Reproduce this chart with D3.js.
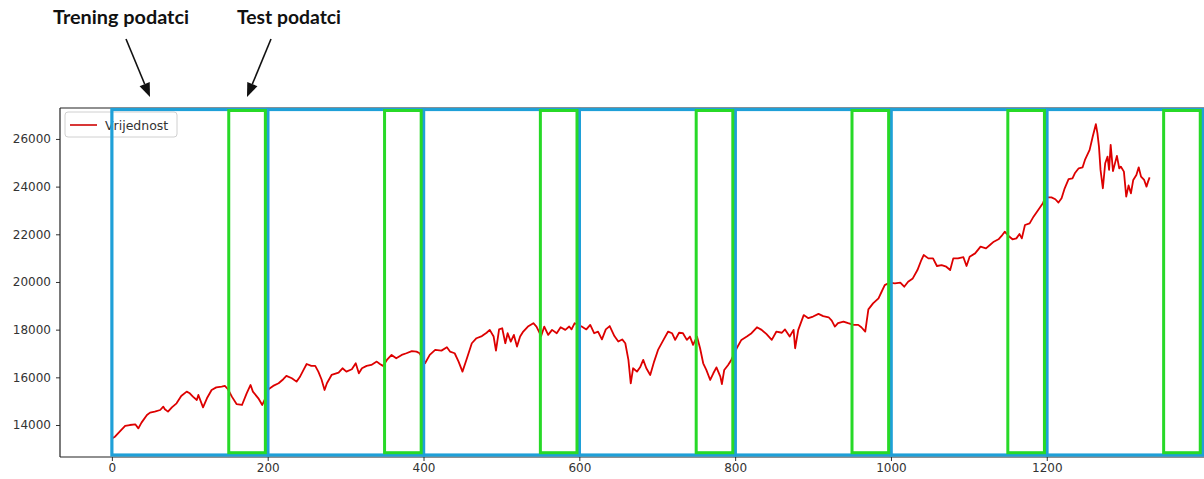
<!DOCTYPE html>
<html>
<head>
<meta charset="utf-8">
<script src="https://cdn.jsdelivr.net/npm/d3@7"></script>
<style>
  html, body { margin: 0; padding: 0; background: #fff; }
  svg { display: block; }
</style>
</head>
<body>
<svg id="chart" width="1204" height="479"></svg>
<script>
// ---- data ----
const idx = [0,4,10,17,23,30,34,38,45,49,55,62,66,68,72,77,83,89,96,100,104,109,111,117,122,128,134,141,145,149,154,160,167,173,178,181,188,193,199,201,207,214,220,224,231,237,241,246,250,256,261,265,269,273,276,282,291,296,301,308,313,317,321,327,333,340,344,348,353,359,365,372,378,385,391,395,402,408,415,423,430,434,440,445,450,455,462,468,475,481,485,490,493,497,501,505,508,512,516,520,524,528,534,541,545,551,555,560,565,571,576,582,587,590,594,603,609,614,619,624,629,634,639,645,650,655,659,663,666,669,674,678,682,686,691,696,701,708,714,719,723,728,733,738,742,746,751,755,759,763,768,772,776,781,783,786,791,795,802,808,815,821,828,834,840,847,853,860,864,870,875,877,881,888,894,900,907,913,920,924,928,932,939,945,952,958,962,967,971,977,984,988,992,998,1005,1012,1017,1022,1028,1034,1039,1042,1048,1054,1059,1065,1071,1076,1080,1086,1093,1097,1101,1108,1115,1122,1127,1132,1138,1142,1146,1151,1156,1161,1165,1168,1172,1178,1183,1189,1195,1198,1206,1211,1215,1219,1223,1228,1233,1236,1241,1246,1249,1255,1259,1263,1265,1267,1269,1272,1275,1278,1280,1282,1285,1290,1293,1295,1299,1302,1305,1308,1311,1315,1318,1321,1325,1328,1330,1332];
const values = [13440,13510,13720,13960,14000,14030,13860,14100,14420,14520,14560,14630,14770,14660,14560,14740,14910,15220,15400,15330,15190,15050,15260,14740,15120,15470,15580,15610,15640,15500,15190,14880,14840,15330,15680,15400,15120,14840,15260,15500,15640,15750,15920,16060,15960,15820,16000,16310,16560,16480,16480,16240,15920,15470,15750,16100,16200,16380,16240,16340,16590,16170,16380,16480,16520,16660,16560,16480,16730,16940,16800,16940,17010,17100,17080,17010,16590,16940,17150,17120,17260,17080,17010,16660,16240,16730,17430,17640,17730,17870,17990,17710,17120,18010,18060,17430,17850,17500,17780,17290,17710,17920,18130,18270,18130,17730,18130,17780,17990,17850,18100,17990,18130,18010,18270,18130,18010,18200,17850,17920,17590,18010,18150,17730,17500,17590,17430,16730,15750,16380,16240,16420,16730,16380,16100,16660,17150,17570,17920,17850,17570,17870,17850,17570,17710,17360,17710,17220,16590,16310,15890,16170,16420,16030,15720,16310,16520,16730,17220,17570,17710,17850,18100,17990,17820,17570,17920,17870,18010,17710,17990,17220,17990,18610,18480,18550,18660,18570,18520,18380,18130,18270,18340,18270,18200,18200,18100,17920,18850,19100,19310,19590,19870,19970,19940,19970,19800,20010,20150,20500,20920,21130,20990,20990,20670,20710,20640,20500,20990,20990,21040,20670,21060,21200,21480,21410,21550,21690,21790,21930,22110,21930,21790,21830,22010,21830,22390,22460,22740,23020,23300,23550,23550,23470,23330,23510,23930,24310,24350,24560,24770,24810,25120,25540,26100,26620,26240,25680,24700,23930,24980,25260,24700,25750,24650,25290,24770,24840,24630,23580,24050,23720,24280,24490,24810,24420,24280,24000,24210,24390];
const xTicks = [0,200,400,600,800,1000,1200];
const yTicks = [14000,16000,18000,20000,22000,24000,26000];
const trainStart = [0,200,400,600,800,1000,1200];
const trainEnd   = [200,400,600,800,1000,1200,1400];
const testStart  = [150,350,550,750,950,1150,1350];
const testEnd    = [197,397,597,797,997,1197,1397];
const seriesName = "Vrijednost";
const trainLabel = "Trening podatci";
const testLabel  = "Test podatci";

// ---- layout ----
const svg = d3.select("#chart");
svg.append("rect").attr("width",1204).attr("height",479).attr("fill","#fff");

const x = d3.scaleLinear().domain([-66.6, 1398.6]).range([60, 1201.5]);
const y = d3.scaleLinear().domain([12658, 27298]).range([457, 108]);

const FONT = "'DejaVu Sans', sans-serif";

// axes
const gx = svg.append("g").attr("transform","translate(0,457)")
  .call(d3.axisBottom(x).tickValues(xTicks).tickFormat(d3.format("d")).tickSize(4).tickPadding(2));
const gy = svg.append("g").attr("transform","translate(60,0)")
  .call(d3.axisLeft(y).tickValues(yTicks).tickFormat(d3.format("d")).tickSize(4).tickPadding(5));
[gx, gy].forEach(g => {
  g.select(".domain").remove();
  g.selectAll("line").attr("stroke","#333");
  g.selectAll("text").attr("fill","#333").style("font-family",FONT).style("font-size","12px");
});

// spines
const spine = svg.append("g").attr("stroke","#222").attr("stroke-width",1.2).attr("fill","none");
spine.append("line").attr("x1",60).attr("x2",60).attr("y1",108).attr("y2",457);
spine.append("line").attr("x1",60).attr("x2",1204).attr("y1",457).attr("y2",457);
spine.append("line").attr("x1",60).attr("x2",1204).attr("y1",108).attr("y2",108);

// data line
const pts = idx.map((d,i)=>[d, values[i]]);
svg.append("path").datum(pts)
  .attr("fill","none").attr("stroke","#dd0000").attr("stroke-width",1.8)
  .attr("stroke-linejoin","round")
  .attr("d", d3.line().x(d=>x(d[0])).y(d=>y(d[1])));

// legend
const lg = svg.append("g");
lg.append("rect").attr("x",65).attr("y",112).attr("width",112).attr("height",25).attr("rx",3)
  .attr("fill","#fff").attr("fill-opacity",0.85).attr("stroke","#d0d0d0");
lg.append("line").attr("x1",70).attr("x2",97).attr("y1",125).attr("y2",125)
  .attr("stroke","#d42020").attr("stroke-width",1.8);
lg.append("text").attr("x",105).attr("y",129.5).text(seriesName)
  .attr("fill","#333").style("font-family",FONT).style("font-size","12.5px");

// training windows (blue) and test windows (green)
const blueLo = 12741, blueHi = 27235, greenLo = 12838, greenHi = 27193;
svg.append("g").selectAll("rect").data(trainStart).join("rect")
  .attr("x", (d)=>x(d)).attr("width",(d,i)=>x(trainEnd[i])-x(d))
  .attr("y", y(blueHi)).attr("height", y(blueLo)-y(blueHi))
  .attr("fill","none").attr("stroke","#1fa0d8").attr("stroke-width",3.2);
svg.append("g").selectAll("rect").data(testStart).join("rect")
  .attr("x", (d)=>x(d)).attr("width",(d,i)=>x(testEnd[i])-x(d))
  .attr("y", y(greenHi)).attr("height", y(greenLo)-y(greenHi))
  .attr("fill","none").attr("stroke","#27d927").attr("stroke-width",3);

// annotations
const ann = svg.append("g");
function arrow(x1,y1,x2,y2){
  const dx=x2-x1, dy=y2-y1, L=Math.hypot(dx,dy), ux=dx/L, uy=dy/L;
  const hl=14, hw=5.5;
  const bx=x2-ux*hl, by=y2-uy*hl;
  ann.append("line").attr("x1",x1).attr("y1",y1).attr("x2",bx).attr("y2",by)
    .attr("stroke","#111").attr("stroke-width",1.6);
  ann.append("path").attr("d",`M${x2},${y2}L${bx-uy*hw},${by+ux*hw}L${bx+uy*hw},${by-ux*hw}Z`).attr("fill","#111");
}
arrow(126,39,150,97);
arrow(271,39,247,97);
ann.append("text").attr("x",53).attr("y",24).text(trainLabel)
  .attr("textLength",136).attr("lengthAdjust","spacingAndGlyphs")
  .attr("fill","#111").style("font-family","Lato, sans-serif").style("font-weight","bold").style("font-size","18.5px");
ann.append("text").attr("x",237).attr("y",24).text(testLabel)
  .attr("textLength",104).attr("lengthAdjust","spacingAndGlyphs")
  .attr("fill","#111").style("font-family","Lato, sans-serif").style("font-weight","bold").style("font-size","18.5px");
</script>
</body>
</html>
